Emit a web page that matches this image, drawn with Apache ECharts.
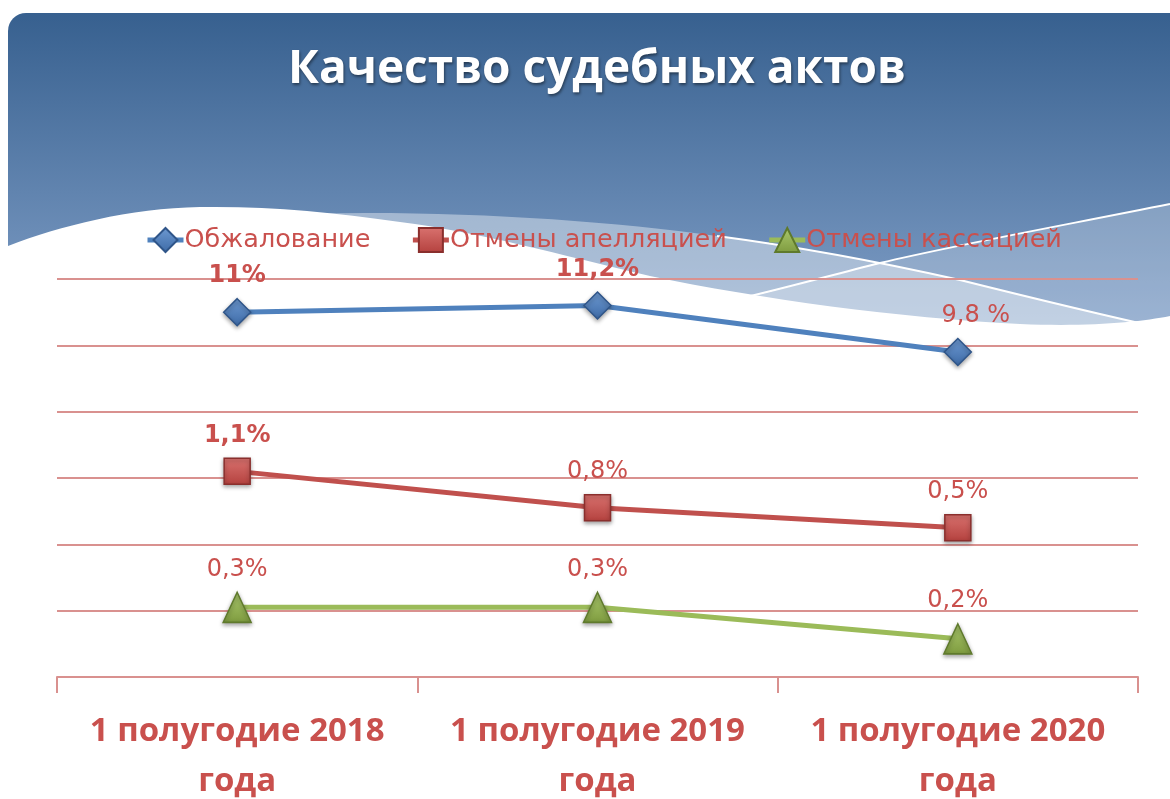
<!DOCTYPE html>
<html>
<head>
<meta charset="utf-8">
<script src="https://cdn.jsdelivr.net/npm/echarts@6/dist/echarts.min.js"></script>
<style>
  html, body { margin: 0; padding: 0; background: #fff; }
  #chart { width: 1170px; height: 799px; }
</style>
</head>
<body>
<div id="chart"></div>
<script>
// categories (x axis)
const categories = ['1 полугодие 2018\nгода', '1 полугодие 2019\nгода', '1 полугодие 2020\nгода'];

// plotted heights (axis 0..12, hidden) and the texts shown above points
const appealValues = [11.0, 11.2, 9.8];
const appealLabels = ['11%', '11,2%', '9,8 %'];
const cancelAppealValues = [6.2, 5.1, 4.5];
const cancelAppealLabels = ['1,1%', '0,8%', '0,5%'];
const cancelCassValues = [2.1, 2.1, 1.15];
const cancelCassLabels = ['0,3%', '0,3%', '0,2%'];

const seriesNames = ['Обжалование', 'Отмены апелляцией', 'Отмены кассацией'];
const boldLabels = [[true, true, false], [true, false, false], [false, false, false]];

const RED = '#c9504d';
const GRID_COLOR = '#d9918f';

// background decoration shapes (the slide's wave)
echarts.graphic.registerShape('bandA', echarts.graphic.extendPath(
  'M300,214 C450,210 600,220 717,236 C800,247 880,262 960,280 C1020,295 1080,310 1170,330 L1170,420 L300,420 Z', {}));
echarts.graphic.registerShape('bandB', echarts.graphic.extendPath(
  'M640,325 C740,300 800,285 880,263 C960,244 1060,226 1170,204 L1170,420 L640,420 Z', {}));
echarts.graphic.registerShape('lineA', echarts.graphic.extendPath(
  'M717,236 C800,247 880,262 960,280 C1020,295 1080,310 1170,330', {}));
echarts.graphic.registerShape('lineB', echarts.graphic.extendPath(
  'M700,308 C780,290 820,278 880,263 C960,244 1060,226 1170,204', {}));
echarts.graphic.registerShape('whiteWave', echarts.graphic.extendPath(
  'M0,250 L8,246 C60,226 130,208 200,207 C270,206 330,212 400,222 C480,232 560,255 650,276 C760,299 900,318 1020,324 C1090,327 1140,322 1170,316 L1170,799 L0,799 Z', {}));

function grad(top, bottom) {
  return new echarts.graphic.LinearGradient(0, 0, 0, 1, [
    { offset: 0, color: top },
    { offset: 1, color: bottom }
  ]);
}

function makeData(values, labels, bold, offsets) {
  return values.map(function (v, i) {
    return {
      value: v,
      label: {
        formatter: labels[i],
        fontWeight: bold[i] ? 'bold' : 'normal',
        offset: offsets ? offsets[i] : [0, 0]
      }
    };
  });
}

const labelBase = {
  show: true,
  position: 'top',
  distance: 10,
  color: RED,
  fontFamily: 'DejaVu Sans',
  fontSize: 24
};

const markerShadow = {
  shadowBlur: 4,
  shadowColor: 'rgba(0,0,0,0.35)',
  shadowOffsetY: 2
};

let myChart = echarts.init(document.getElementById('chart'));

let option = {
  backgroundColor: '#ffffff',
  animation: false,
  graphic: {
    elements: [
      {
        type: 'rect',
        z: -10,
        shape: { x: 8, y: 13, width: 1170, height: 360, r: [18, 0, 0, 0] },
        style: { fill: grad('#37608f', '#8ba8cf') }
      },
      { type: 'bandA', z: -9, shape: {}, style: { fill: 'rgba(238,242,247,0.45)' } },
      { type: 'bandB', z: -9, shape: {}, style: { fill: 'rgba(255,255,255,0.22)' } },
      { type: 'lineA', z: -8, shape: {}, style: { fill: null, stroke: '#ffffff', lineWidth: 2 } },
      { type: 'lineB', z: -8, shape: {}, style: { fill: null, stroke: '#ffffff', lineWidth: 2 } },
      { type: 'whiteWave', z: -7, shape: {}, style: { fill: '#ffffff' } },
      {
        type: 'text',
        z: 5,
        x: 597,
        y: 70,
        style: {
          text: 'Качество судебных актов',
          fill: '#ffffff',
          font: 'bold 46px "Open Sans"',
          textAlign: 'center',
          textVerticalAlign: 'middle',
          textShadowColor: 'rgba(0,0,0,0.45)',
          textShadowBlur: 3,
          textShadowOffsetX: 1,
          textShadowOffsetY: 2
        }
      }
    ]
  },
  legend: {
    top: 222,
    left: 140,
    itemWidth: 36,
    itemHeight: 30,
    itemGap: 40,
    lineStyle: { width: 5 },
    textStyle: {
      color: RED,
      fontFamily: 'DejaVu Sans',
      fontSize: 25.5,
      padding: [0, 0, 0, -4]
    },
    data: seriesNames
  },
  grid: {
    left: 57,
    right: 32,
    top: 279,
    height: 398,
    outerBoundsMode: 'none'
  },
  xAxis: {
    type: 'category',
    data: categories,
    boundaryGap: true,
    axisLine: { lineStyle: { color: GRID_COLOR, width: 2 } },
    axisTick: { show: true, length: 16, lineStyle: { color: GRID_COLOR, width: 2 } },
    axisLabel: {
      interval: 0,
      color: RED,
      fontFamily: 'Open Sans',
      fontWeight: 'bold',
      fontSize: 33,
      lineHeight: 50,
      margin: 30
    }
  },
  yAxis: {
    type: 'value',
    min: 0,
    max: 12,
    interval: 2,
    axisLine: { show: false },
    axisTick: { show: false },
    axisLabel: { show: false },
    splitLine: { lineStyle: { color: GRID_COLOR, width: 2 } }
  },
  series: [
    {
      name: seriesNames[0],
      type: 'line',
      data: makeData(appealValues, appealLabels, boldLabels[0], [[0, 0], [0, 0], [18, 0]]),
      symbol: 'diamond',
      symbolSize: 27,
      lineStyle: { color: '#4f81bd', width: 5 },
      itemStyle: Object.assign({ color: grad('#6e9ad2', '#3d6aa6'), borderColor: '#2f5589', borderWidth: 1.5 }, markerShadow),
      label: labelBase
    },
    {
      name: seriesNames[1],
      type: 'line',
      data: makeData(cancelAppealValues, cancelAppealLabels, boldLabels[1]),
      symbol: 'rect',
      symbolSize: 26,
      lineStyle: { color: '#c0504d', width: 5 },
      itemStyle: Object.assign({ color: grad('#d9726f', '#b4413e'), borderColor: '#8a2f2d', borderWidth: 1.5 }, markerShadow),
      label: labelBase
    },
    {
      name: seriesNames[2],
      type: 'line',
      data: makeData(cancelCassValues, cancelCassLabels, boldLabels[2]),
      symbol: 'triangle',
      symbolSize: [28, 30],
      lineStyle: { color: '#9bbb59', width: 5 },
      itemStyle: Object.assign({ color: grad('#abc96d', '#7e9b3f'), borderColor: '#5f7a2c', borderWidth: 1.5 }, markerShadow),
      label: labelBase
    }
  ]
};

myChart.setOption(option);
</script>
</body>
</html>
